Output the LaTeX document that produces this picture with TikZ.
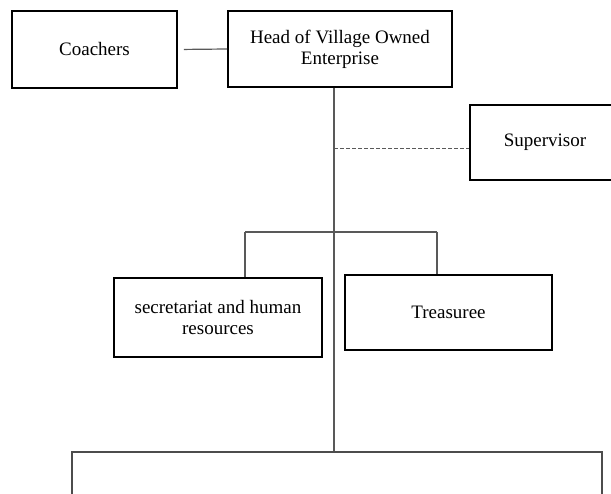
\documentclass[tikz,border=0pt]{standalone}
\usepackage{fontspec}
\setmainfont{Liberation Serif}
\usepackage{tikz}
\usetikzlibrary{positioning}

\begin{document}
\begin{tikzpicture}[x=1pt,
            y=-1pt,
            box/.style={draw=black,line width=1.8pt,align=center,
                        inner sep=0pt,font=\rmfamily\fontsize{19}{21}\selectfont},
            link/.style={draw=black!65,line width=1.2pt}]

        \useasboundingbox (0,0) rectangle (611,494);
        \clip (0,0) rectangle (611,494);

        \node[box,minimum width=165pt,minimum height=77pt] (coach)  at (94.5,49.5)  {Coachers};
        \node[box,minimum width=224pt,minimum height=76pt] (head)   at (340,49)     {Head of Village Owned\\Enterprise};
        \node[box,minimum width=150pt,minimum height=75pt] (super)  at (545,142.5)  {Supervisor};
        \node[box,minimum width=208pt,minimum height=79pt] (secr)   at (218,317.5)  {secretariat and human\\resources};
        \node[box,minimum width=207pt,minimum height=75pt] (treas)  at (448.5,312.5) {Treasuree};
        \node[box,minimum width=530pt,minimum height=100pt,line width=1.4pt,draw=black!70] (unit) at (337,502) {};

        \coordinate (top)  at (334,88);
        \coordinate (dash) at (334,149);
        \coordinate (lbr)  at (245,232);
        \coordinate (rbr)  at (437,232);

        \path[link] (coach.east) edge [shorten <=6pt] (head.west)
                    (top)        edge                 (top |- unit.north)
                    (lbr)        edge                 (rbr)
                    (lbr)        edge                 (lbr |- secr.north)
                    (rbr)        edge                 (rbr |- treas.north);
        \draw[link,line width=1pt,dash pattern=on 4pt off 2pt] (dash) -- (dash -| super.west);

    \end{tikzpicture}
\end{document}
